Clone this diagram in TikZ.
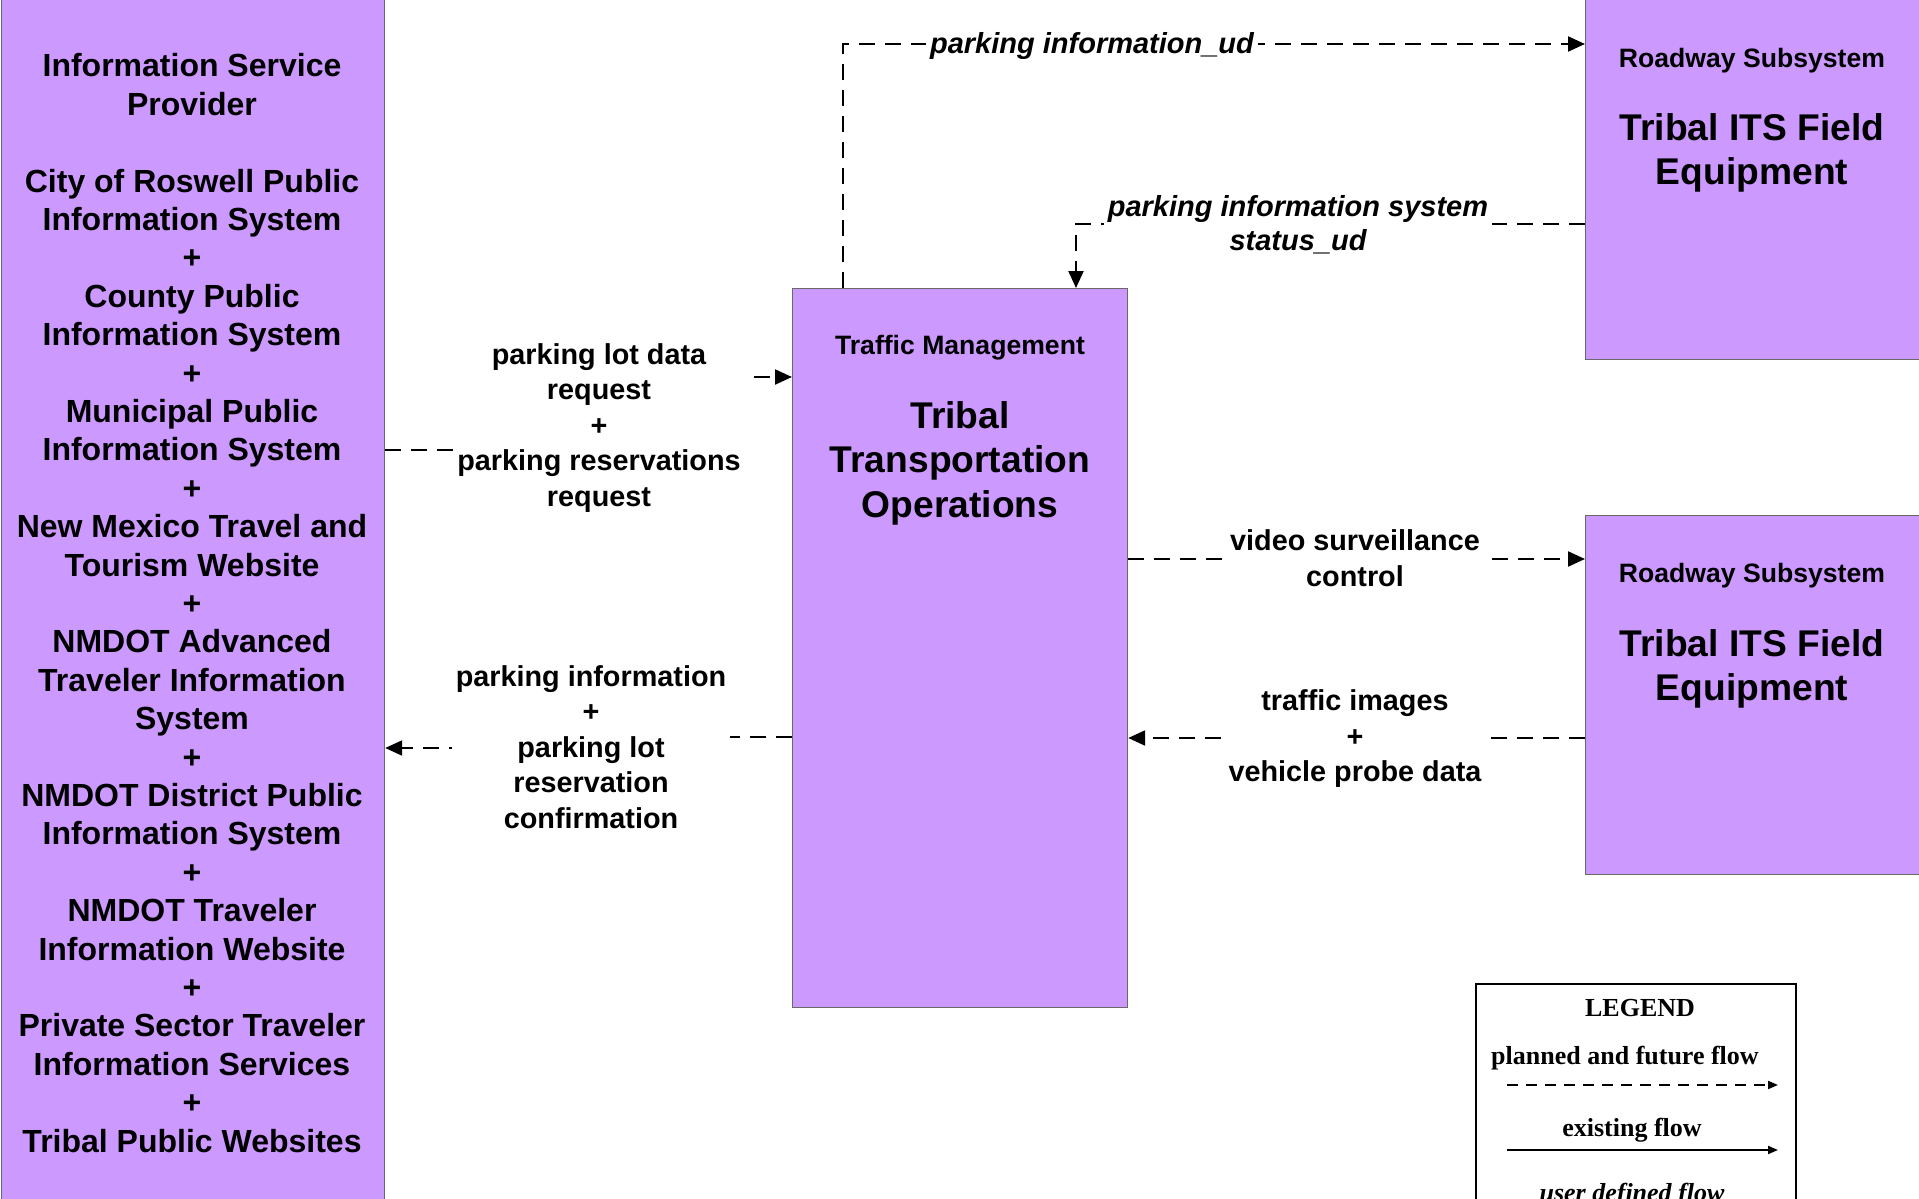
\documentclass[tikz,border=0pt]{standalone}
\usepackage{fontspec}
\setmainfont{Liberation Sans}
\newfontfamily\legendfont{Liberation Serif}
\usetikzlibrary{arrows.meta, positioning, calc}
\definecolor{entfill}{RGB}{204,153,255}
\definecolor{entdraw}{RGB}{105,105,105}

\begin{document}
\begin{tikzpicture}[
  x=0.5pt, y=-0.5pt,
  ent/.style    ={rectangle, draw=entdraw, fill=entfill, line width=0.6pt, inner sep=0pt, anchor=north west},
  enttype/.style={font=\bfseries\fontsize{13.3}{16}\selectfont, inner sep=0pt},
  entname/.style={font=\bfseries\fontsize{18.6}{22.25}\selectfont, align=center, inner sep=0pt},
  isptext/.style={font=\bfseries\fontsize{16}{19.2}\selectfont, align=center, inner sep=0pt},
  flow/.style   ={draw=black, line width=1.1pt, dash pattern=on 8pt off 5pt, -{Triangle[length=8.5pt,width=7.5pt]}},
  flowlbl/.style={font=\bfseries\fontsize{14.4}{17.75}\selectfont, align=center, fill=white, inner sep=2pt},
  udlbl/.style  ={font=\bfseries\itshape\fontsize{14.5}{17}\selectfont, align=center, fill=white, inner sep=2pt},
  lgd/.style    ={font=\legendfont\bfseries\fontsize{13}{15}\selectfont, inner sep=0pt},
]
\useasboundingbox (0,0) rectangle (1919,1199);

% --- Entities ---
\node[ent, minimum width=191.5pt, minimum height=612.5pt] (isp) at (1,-10) {};
\node[ent, minimum width=167.5pt, minimum height=359.5pt] (tto) at (792,288) {};
\node[ent, minimum width=172.5pt, minimum height=184.5pt] (rs1) at (1585,-10) {};
\node[ent, minimum width=172.5pt, minimum height=179.5pt] (rs2) at (1585,515) {};

\node[isptext] (ispname) at (192,603) {Information Service\\Provider\\[19.2pt]
  City of Roswell Public\\Information System\\+\\County Public\\Information System\\+\\
  Municipal Public\\Information System\\+\\New Mexico Travel and\\Tourism Website\\+\\
  NMDOT Advanced\\Traveler Information\\System\\+\\NMDOT District Public\\Information System\\+\\
  NMDOT Traveler\\Information Website\\+\\Private Sector Traveler\\Information Services\\+\\
  Tribal Public Websites};

\node[enttype] (ttotype) at (960,348) {Traffic Management};
\node[entname] (ttoname) at (960,463) {Tribal\\Transportation\\Operations};

\node[enttype] (rs1type) at (1752,61) {Roadway Subsystem};
\node[entname] (rs1name) at (1752,153) {Tribal ITS Field\\Equipment};
\node[enttype] (rs2type) at (1752,576) {Roadway Subsystem};
\node[entname] (rs2name) at (1752,669) {Tribal ITS Field\\Equipment};

% --- Flows ---
\draw[flow] (tto.north -| 843,0) -- (843,44) -- (rs1.west |- 0,44);
\draw[flow] (rs1.west |- 0,224) -- (1076,224) -- (tto.north -| 1076,0);
\draw[flow] (isp.east |- 0,450) -- (600,450) -- (600,377) -- (tto.west |- 0,377);
\draw[flow] (tto.west |- 0,737) -- (590,737) -- (590,748) -- (isp.east |- 0,748);
\draw[flow] (tto.east |- 0,559) -- (rs2.west |- 0,559);
\draw[flow] (rs2.west |- 0,738) -- (tto.east |- 0,738);

% --- Flow labels ---
\node[udlbl]   (l1) at (1092,46)  {parking information\_ud};
\node[udlbl]   (l2) at (1298,225) {parking information system\\status\_ud};
\node[flowlbl] (l3) at (599,428)  {parking lot data\\request\\+\\parking reservations\\request};
\node[flowlbl] (l4) at (591,747)  {parking information\\+\\parking lot\\reservation\\confirmation};
\node[flowlbl] (l5) at (1355,558) {video surveillance\\control};
\node[flowlbl] (l6) at (1355,739) {traffic images\\+\\vehicle probe data};

% --- Legend ---
\node[rectangle, draw=black, fill=white, line width=1.2pt, minimum width=160pt, minimum height=116pt,
      anchor=north west] (lgbox) at (1475,983) {};
\node[lgd] (lgtitle) at (1640,1008) {LEGEND};
\node[lgd] (lgplan)  at (1625,1058) {planned and future flow};
\coordinate (lgpa) at (1507,1085);
\coordinate (lgpb) at (1778,1085);
\draw[line width=1pt, dash pattern=on 5.5pt off 4pt, -{Triangle[length=5pt,width=4pt]}] (lgpa) -- (lgpb);
\node[lgd] (lgexist) at (1632,1130) {existing flow};
\coordinate (lgea) at (1507,1150);
\coordinate (lgeb) at (1778,1150);
\draw[line width=1pt, -{Triangle[length=5pt,width=4pt]}] (lgea) -- (lgeb);
\node[lgd, font=\legendfont\bfseries\itshape\fontsize{13}{15}\selectfont] (lguser) at (1632,1195) {user defined flow};
\end{tikzpicture}
\end{document}
